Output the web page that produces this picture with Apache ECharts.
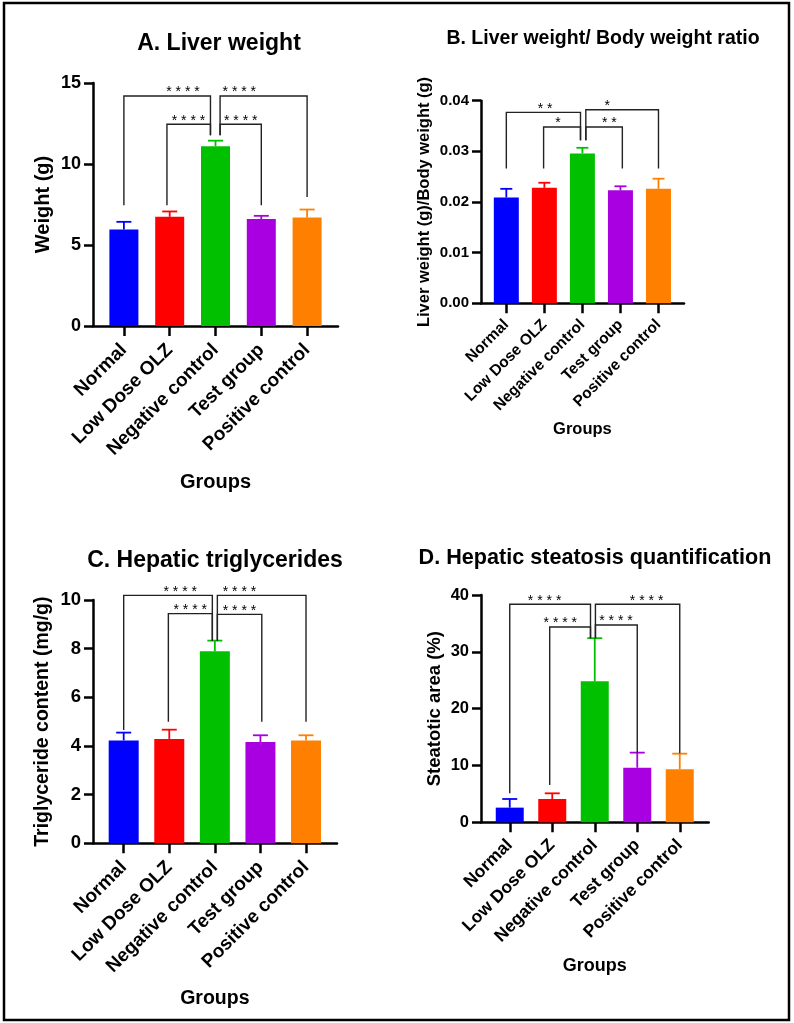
<!DOCTYPE html>
<html><head><meta charset="utf-8">
<script src="https://cdn.jsdelivr.net/npm/echarts@6/dist/echarts.min.js"></script>
<style>html,body{margin:0;padding:0;background:#fff}#c{width:794px;height:1023px}</style>
</head><body><div id="c"></div>
<script>
// ---------- data ----------
const categories = ['Normal', 'Low Dose OLZ', 'Negative control', 'Test group', 'Positive control'];
const barColors = ['#0000FF', '#FF0000', '#00C000', '#A800E0', '#FF8000'];

// A. Liver weight (g)
const aMeans = [5.96, 6.74, 11.1, 6.6, 6.7];
const aSD = [0.47, 0.33, 0.34, 0.2, 0.49];
// [from (category), to (category), top, foot at from, foot at to, label, label at (category)]
const aBrackets = [
  [0, 1.89, 14.2, 7.46, 11.77, '****', 1.29],
  [0.94, 1.89, 12.45, 7.46, 11.77, '****', 1.41],
  [2.1, 4.0, 14.2, 11.77, 7.97, '****', 2.52],
  [2.1, 3.0, 12.45, 11.77, 7.46, '****', 2.55]
];
const aTicks = [0, 5, 10, 15];

// B. Liver weight / body weight ratio
const bMeans = [0.0209, 0.0228, 0.0296, 0.0223, 0.0226];
const bSD = [0.0017, 0.0010, 0.0011, 0.0008, 0.0020];
const bBrackets = [
  [0, 1.95, 0.0377, 0.0266, 0.0322, '**', 1.02],
  [0.98, 1.95, 0.0348, 0.0266, 0.0322, '*', 1.36],
  [2.09, 4.0, 0.0382, 0.0322, 0.0266, '*', 2.65],
  [2.09, 3.05, 0.0348, 0.0322, 0.0266, '**', 2.71]
];
const bTicks = [0, 0.01, 0.02, 0.03, 0.04];

// C. Hepatic triglycerides (mg/g)
const cMeans = [4.23, 4.29, 7.89, 4.16, 4.23];
const cSD = [0.32, 0.38, 0.44, 0.28, 0.21];
const cBrackets = [
  [0, 1.945, 10.19, 4.66, 8.33, '****', 1.24],
  [0.98, 1.945, 9.44, 5.0, 8.33, '****', 1.46],
  [2.055, 4.0, 10.19, 8.33, 5.0, '****', 2.54],
  [2.055, 3.03, 9.41, 8.33, 5.0, '****', 2.54]
];
const cTicks = [0, 2, 4, 6, 8, 10];

// D. Hepatic steatosis (%)
const dMeans = [2.58, 4.1, 24.8, 9.6, 9.33];
const dSD = [1.52, 1.0, 7.6, 2.66, 2.75];
const dBrackets = [
  [0, 1.9, 38.36, 5.1, 32.4, '****', 0.82],
  [0.94, 1.9, 34.37, 6.57, 32.4, '****', 1.19],
  [2.016, 4.0, 38.36, 32.4, 12.14, '****', 3.22],
  [2.016, 3.0, 34.72, 32.4, 12.26, '****', 2.5]
];
const dTicks = [0, 10, 20, 30, 40];

// ---------- layout / style ----------
const FONT = '"Liberation Sans", Arial, Helvetica, sans-serif';
const panels = [
  { title: 'A. Liver weight', yName: 'Weight (g)', means: aMeans, sd: aSD, brackets: aBrackets, ticks: aTicks, dec: 0,
    outer: { left: 93, top: 83, width: 245, height: 243 }, inner: { left: 101, width: 229 },
    barWidth: 29, capW: 15, titlePos: [219, 44], titleSize: 23, yNameSize: 20, yNameGap: 40,
    tickSize: 18, catSize: 19, catMargin: 21, xNameSize: 20, xNameGap: 146 },
  { title: 'B. Liver weight/ Body weight ratio', yName: 'Liver weight (g)/Body weight (g)', means: bMeans, sd: bSD, brackets: bBrackets, ticks: bTicks, dec: 2,
    outer: { left: 481, top: 100.7, width: 203, height: 202.6 }, inner: { left: 487.3, width: 190.2 },
    barWidth: 25, capW: 12, titlePos: [603, 39], titleSize: 19.5, yNameSize: 16.5, yNameGap: 48,
    tickSize: 15, catSize: 15.5, catMargin: 19, xNameSize: 16.5, xNameGap: 118 },
  { title: 'C. Hepatic triglycerides', yName: 'Triglyceride content (mg/g)', means: cMeans, sd: cSD, brackets: cBrackets, ticks: cTicks, dec: 0,
    outer: { left: 93, top: 600, width: 244, height: 243.3 }, inner: { left: 100.9, width: 227.9 },
    barWidth: 30, capW: 15, titlePos: [215, 561], titleSize: 23, yNameSize: 19.5, yNameGap: 40,
    tickSize: 18.5, catSize: 19, catMargin: 21, xNameSize: 19.5, xNameGap: 145 },
  { title: 'D. Hepatic steatosis quantification', yName: 'Steatotic area (%)', means: dMeans, sd: dSD, brackets: dBrackets, ticks: dTicks, dec: 0,
    outer: { left: 481, top: 595, width: 227.7, height: 227.3 }, inner: { left: 488.5, width: 212.5 },
    barWidth: 28, capW: 15, titlePos: [595, 558], titleSize: 21.6, yNameSize: 18.5, yNameGap: 37,
    tickSize: 16.5, catSize: 17.5, catMargin: 20, xNameSize: 18, xNameGap: 135 }
];

const grid = [], xAxis = [], yAxis = [], series = [], graphic = [];

function errorRender(capW) {
  return function (params, api) {
    const i = api.value(0);
    const p0 = api.coord([i, api.value(1)]);
    const p1 = api.coord([i, api.value(2)]);
    const c = barColors[params.dataIndex];
    return { type: 'group', children: [
      { type: 'line', shape: { x1: p0[0], y1: p0[1], x2: p1[0], y2: p1[1] }, style: { stroke: c, lineWidth: 1.8 } },
      { type: 'line', shape: { x1: p1[0] - capW / 2, y1: p1[1], x2: p1[0] + capW / 2, y2: p1[1] }, style: { stroke: c, lineWidth: 1.8 } }
    ] };
  };
}

function bracketRender(list) {
  return function (params, api) {
    const b = list[params.dataIndex];
    const x0 = api.coord([0, 0])[0];
    const bw = api.size([1, 0])[0];
    const X = c => x0 + c * bw;
    const Y = v => api.coord([0, v])[1];
    const yt = Y(b[2]);
    return { type: 'group', children: [
      { type: 'polyline', shape: { points: [[X(b[0]), Y(b[3])], [X(b[0]), yt], [X(b[1]), yt], [X(b[1]), Y(b[4])]] },
        style: { stroke: '#222', lineWidth: 1.4, fill: null } },
      { type: 'text', x: X(b[6]), y: yt - 3.5,
        style: { text: b[5].split('').join(' '), font: '14px ' + FONT, fill: '#000', align: 'center', verticalAlign: 'middle' } }
    ] };
  };
}

panels.forEach((p, k) => {
  const gOuter = 2 * k, gInner = 2 * k + 1;
  const yMin = p.ticks[0], yMax = p.ticks[p.ticks.length - 1], yInt = p.ticks[1] - p.ticks[0];
  grid.push({ left: p.outer.left, top: p.outer.top, width: p.outer.width, height: p.outer.height });
  grid.push({ left: p.inner.left, top: p.outer.top, width: p.inner.width, height: p.outer.height });

  xAxis.push({ gridIndex: gOuter, type: 'value', min: 0, max: 1,
    axisLine: { show: true, onZero: false, lineStyle: { color: '#000', width: 2.5 } },
    axisTick: { show: false }, axisLabel: { show: false }, splitLine: { show: false } });
  xAxis.push({ gridIndex: gInner, type: 'category', data: categories,
    axisLine: { show: false },
    axisTick: { show: true, alignWithLabel: true, length: 10, lineStyle: { color: '#000', width: 2.5 } },
    axisLabel: { interval: 0, rotate: 45, margin: p.catMargin, color: '#000', fontWeight: 'bold', fontSize: p.catSize, fontFamily: FONT },
    name: 'Groups', nameLocation: 'middle', nameGap: p.xNameGap,
    nameTextStyle: { color: '#000', fontWeight: 'bold', fontSize: p.xNameSize, fontFamily: FONT } });

  yAxis.push({ gridIndex: gOuter, type: 'value', min: yMin, max: yMax, interval: yInt,
    axisLine: { show: true, onZero: false, lineStyle: { color: '#000', width: 2.5 } },
    axisTick: { show: true, length: 9, lineStyle: { color: '#000', width: 2.5 } },
    axisLabel: { margin: 12, color: '#000', fontWeight: 'bold', fontSize: p.tickSize, fontFamily: FONT,
      formatter: v => v.toFixed(p.dec) },
    splitLine: { show: false },
    name: p.yName, nameLocation: 'middle', nameGap: p.yNameGap,
    nameTextStyle: { color: '#000', fontWeight: 'bold', fontSize: p.yNameSize, fontFamily: FONT } });
  yAxis.push({ gridIndex: gInner, type: 'value', min: yMin, max: yMax, show: false, splitLine: { show: false } });

  series.push({ type: 'bar', xAxisIndex: gInner, yAxisIndex: gInner, barWidth: p.barWidth, z: 2,
    data: p.means.map((v, i) => ({ value: v, itemStyle: { color: barColors[i] } })) });
  series.push({ type: 'custom', xAxisIndex: gInner, yAxisIndex: gInner, z: 3,
    renderItem: errorRender(p.capW),
    data: p.means.map((v, i) => [i, v, v + p.sd[i]]) });
  series.push({ type: 'custom', xAxisIndex: gInner, yAxisIndex: gInner, z: 4, clip: false,
    renderItem: bracketRender(p.brackets),
    data: p.brackets.map(b => [Math.round(b[0]), b[2]]) });

  graphic.push({ type: 'text', x: p.titlePos[0], y: p.titlePos[1],
    style: { text: p.title, font: 'bold ' + p.titleSize + 'px ' + FONT, fill: '#000', align: 'center', verticalAlign: 'middle' } });
});

graphic.push({ type: 'rect', shape: { x: 4, y: 3, width: 785, height: 1017 }, style: { fill: null, stroke: '#000', lineWidth: 2.5 }, z: 100 });

const chart = echarts.init(document.getElementById('c'), null, { renderer: 'canvas' });
chart.setOption({ animation: false, backgroundColor: '#fff', grid, xAxis, yAxis, series, graphic });
</script></body></html>
